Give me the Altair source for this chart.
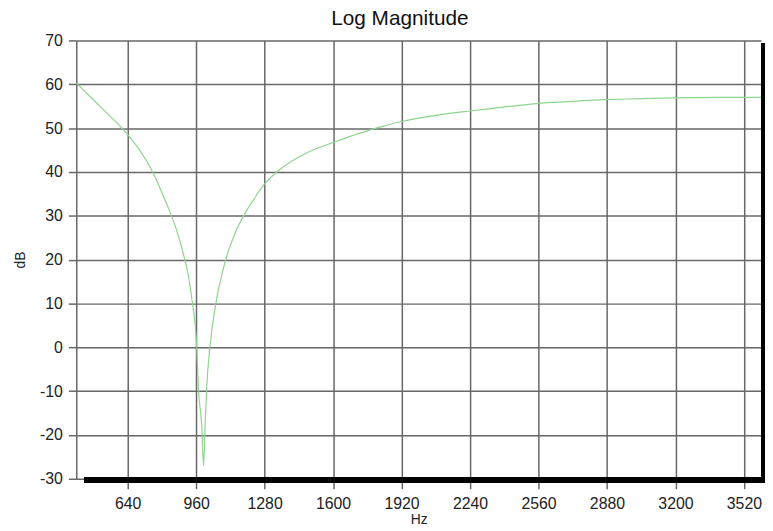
import altair as alt
import pandas as pd

# Frequency (Hz) and magnitude (dB)
freq = [400, 450, 500, 560, 600, 640, 700, 746, 780, 809, 840, 871, 902, 925,
        940, 963, 971, 986, 995, 1002, 1010, 1025, 1056, 1080, 1102, 1148, 1200,
        1233, 1279, 1350, 1440, 1520, 1594, 1680, 1748, 1840, 1918, 2080, 2241,
        2349, 2549, 2720, 2873, 3040, 3187, 3400, 3600]
db = [60.3, 57.9, 55.5, 52.6, 50.7, 48.5, 44.7, 41.0, 37.6, 34.2, 30.6, 26.4,
      21.0, 16.0, 11.0, 0.0, -9.5, -17.7, -27.0, -17.7, -8.7, 0.3, 11.0, 16.5,
      20.6, 26.7, 31.5, 34.0, 37.2, 40.5, 43.4, 45.3, 46.6, 48.1, 49.2, 50.5,
      51.5, 52.9, 53.9, 54.5, 55.6, 56.1, 56.5, 56.7, 56.9, 57.0, 57.0]

x_ticks = [640, 960, 1280, 1600, 1920, 2240, 2560, 2880, 3200, 3520]
y_ticks = [-30, -20, -10, 0, 10, 20, 30, 40, 50, 60, 70]

df = pd.DataFrame({"Hz": freq, "dB": db})

W, H = 692, 443
FONT = "Liberation Sans"
GRID = "#676767"

line = alt.Chart(df).mark_line(color="#8fd48f", strokeWidth=1.2,
                               interpolate="monotone").encode(
    x=alt.X("Hz:Q",
            scale=alt.Scale(domain=[400, 3600], nice=False, zero=False),
            axis=alt.Axis(values=x_ticks, title="Hz", grid=True, domain=False,
                          labelExpr="datum.value + ''",
                          tickSize=10, tickColor=GRID, tickWidth=1.5,
                          labelPadding=7, titlePadding=1)),
    y=alt.Y("dB:Q",
            scale=alt.Scale(domain=[-30, 70], nice=False, zero=False),
            axis=alt.Axis(values=y_ticks, title="dB", grid=True, domain=True,
                          labelExpr="datum.value + ''",
                          domainColor=GRID, domainWidth=1.5,
                          tickSize=8, tickColor=GRID, tickWidth=1.5,
                          labelPadding=6, titlePadding=12)),
)

shadow_bottom = alt.Chart(df).mark_rule(color="black", strokeWidth=5).encode(
    x=alt.value(8), x2=alt.value(W + 4), y=alt.value(H + 1.5))
shadow_right = alt.Chart(df).mark_rule(color="black", strokeWidth=4).encode(
    x=alt.value(W + 2), y=alt.value(3), y2=alt.value(H + 4))

chart = alt.layer(line, shadow_bottom, shadow_right).properties(
    width=W, height=H,
    title=alt.TitleParams("Log Magnitude", fontSize=21, font=FONT,
                          fontWeight="normal", color="#111", anchor="middle",
                          dx=-19, offset=4),
    autosize=alt.AutoSizeParams(type="none"),
    padding={"left": 69, "top": 30, "right": 4, "bottom": 48},
).configure_view(stroke=None).configure_axis(
    labelFont=FONT, labelFontSize=16, labelColor="#222",
    titleFont=FONT, titleFontSize=14, titleColor="#222", titleFontWeight="normal",
    gridColor=GRID, gridWidth=1.5, gridOpacity=1,
)

chart.save("out.html", embed_options={"renderer": "svg", "actions": False})
